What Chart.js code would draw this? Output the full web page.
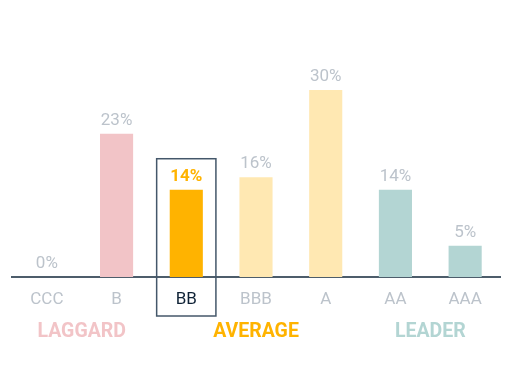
<!DOCTYPE html>
<html>
<head>
<meta charset="utf-8">
<script src="https://cdn.jsdelivr.net/npm/chart.js@4"></script>
<style>
  html, body { margin: 0; padding: 0; background: #fff; }
  #wrap { width: 532px; height: 374px; }
</style>
</head>
<body>
<div id="wrap"><canvas id="ratingChart" width="532" height="374"></canvas></div>
<script>
// DATA

const ratings = ["CCC", "B", "BB", "BBB", "A", "AA", "AAA"];
const shares = [0, 23, 14, 16, 30, 14, 5];
const barColors = ["#f2c4c7", "#f2c4c7", "#ffb300", "#ffe8b2", "#ffe8b2", "#b3d5d3", "#b3d5d3"];
const groupNames = ["LAGGARD", "AVERAGE", "LEADER"];
const groupMembers = [["CCC", "B"], ["BB", "BBB", "A"], ["AA", "AAA"]];
const groupColors = ["#f2c4c7", "#ffb300", "#b3d5d3"];
const selected = "BB";

const GREY = "#bcc3cb";
const DARK = "#44576a";
const FONT = "Roboto, 'Liberation Sans', sans-serif";

// PLUGIN: value labels, group labels, highlight box

const decorations = {
  id: "decorations",
  afterDatasetsDraw(chart) {
    const ctx = chart.ctx;
    const x = chart.scales.x;
    const y = chart.scales.y;
    const meta = chart.getDatasetMeta(0);
    const catWidth = x.width / ratings.length;

    ctx.save();
    ctx.textAlign = "center";
    ctx.textBaseline = "alphabetic";

    // value labels
    meta.data.forEach((bar, i) => {
      const isSel = ratings[i] === selected;
      ctx.font = (isSel ? "bold " : "") + "17px " + FONT;
      ctx.fillStyle = isSel ? "#ffb300" : GREY;
      ctx.fillText(shares[i] + "%", bar.x, bar.y - 9);
    });

    // group labels
    ctx.font = "bold 19.5px " + FONT;
    ctx.textBaseline = "middle";
    groupNames.forEach((name, g) => {
      const px = groupMembers[g].map(r => x.getPixelForValue(ratings.indexOf(r)));
      const cx = px.reduce((a, b) => a + b, 0) / px.length;
      ctx.fillStyle = groupColors[g];
      ctx.fillText(name, cx, chart.chartArea.bottom + 55);
    });

    // highlight box
    const si = ratings.indexOf(selected);
    const cx = x.getPixelForValue(si);
    const top = y.getPixelForValue(shares[si]) - 31;
    const bottom = chart.chartArea.bottom + 39;
    const half = catWidth * 0.425;
    ctx.strokeStyle = DARK;
    ctx.lineWidth = 1.5;
    ctx.strokeRect(cx - half, top, half * 2, bottom - top);

    ctx.restore();
  }
};

// CHART

new Chart(document.getElementById("ratingChart"), {
  type: "bar",
  data: {
    labels: ratings,
    datasets: [{
      data: shares,
      backgroundColor: barColors,
      borderWidth: 0,
      categoryPercentage: 1,
      barPercentage: 0.475
    }]
  },
  options: {
    responsive: false,
    animation: false,
    layout: { padding: { left: 12, right: 32, top: 90, bottom: 0 } },
    plugins: {
      legend: { display: false },
      tooltip: { enabled: false }
    },
    scales: {
      x: {
        grid: { display: false, drawTicks: false },
        border: { display: true, color: "#4d5d6b", width: 2 },
        ticks: {
          padding: 13,
          font: { family: FONT, size: 17 },
          color: ctx => ratings[ctx.index] === selected ? "#0f2236" : GREY
        },
        afterFit(scale) { scale.height = 97; }
      },
      y: {
        display: false,
        min: 0,
        max: 30
      }
    }
  },
  plugins: [decorations]
});
</script>
</body>
</html>
